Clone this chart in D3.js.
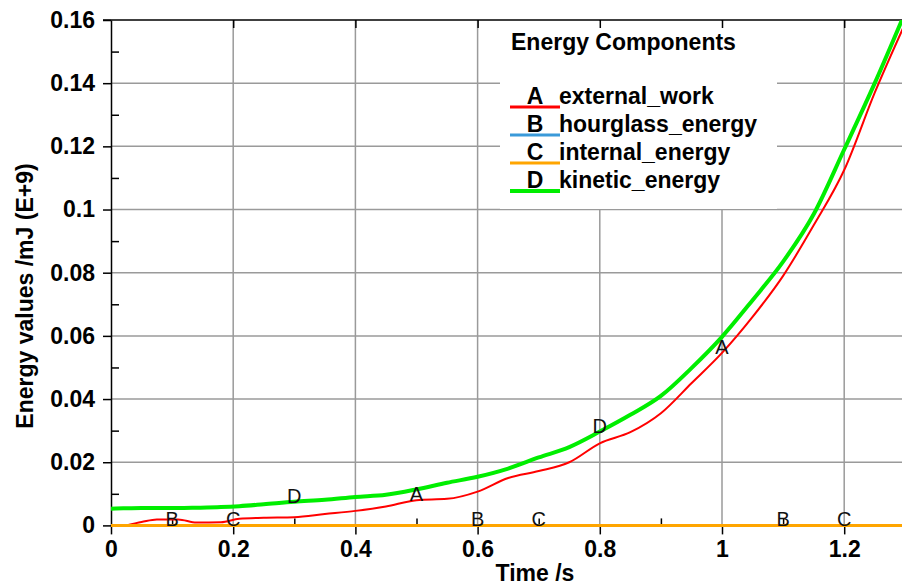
<!DOCTYPE html>
<html lang="en">
<head>
    <meta charset="UTF-8">
    <title>Energy Components</title>
</head>

<style>
    body {
        margin: 0;
        background: #fff;
    }
    svg text {
        font-family: "Liberation Sans", Arial, sans-serif;
    }
</style>
<script src="https://cdnjs.cloudflare.com/ajax/libs/d3/7.8.5/d3.min.js"></script>

<body>
<div id="svg"></div>
</body>
</html>

<script>

    // Time values (s) shared by every series
    const time = [0, 0.02, 0.05, 0.075, 0.11, 0.14, 0.18, 0.21, 0.25, 0.3,
                  0.35, 0.4, 0.45, 0.5, 0.55, 0.6, 0.65, 0.7, 0.75, 0.8,
                  0.85, 0.9, 0.95, 1.0, 1.05, 1.1, 1.15, 1.2, 1.25, 1.3];

    // Energy values /mJ (E+9)
    const externalWork = [0, 0, 0.0011, 0.0019, 0.0019, 0.0009, 0.0010, 0.0021, 0.0024, 0.0026,
                          0.0036, 0.0046, 0.0060, 0.0080, 0.0084, 0.0107, 0.0150, 0.0172, 0.0200, 0.0260,
                          0.0295, 0.0355, 0.0450, 0.0546, 0.0660, 0.0790, 0.0950, 0.1125, 0.1370, 0.1590];

    const hourglassEnergy = [0, 0, 0, 0, 0, 0, 0, 0, 0, 0,
                             0, 0, 0, 0, 0, 0, 0, 0, 0, 0,
                             0, 0, 0, 0, 0, 0, 0, 0, 0, 0];

    const internalEnergy = [0, 0, 0, 0, 0, 0, 0, 0, 0, 0,
                            0, 0, 0, 0, 0, 0, 0, 0, 0, 0,
                            0, 0, 0, 0, 0, 0, 0, 0, 0, 0];

    const kineticEnergy = [0.0053, 0.0054, 0.0055, 0.0055, 0.0055, 0.0056, 0.0058, 0.0061, 0.0067, 0.0075,
                           0.0081, 0.0090, 0.0097, 0.0114, 0.0135, 0.0154, 0.0180, 0.0215, 0.0248, 0.0297,
                           0.0350, 0.0410, 0.0498, 0.0597, 0.0713, 0.0835, 0.0985, 0.1190, 0.1400, 0.1625];

    // Letter markers along each curve (times where the letter sits)
    const letters     = ['A', 'B', 'C', 'D'];
    const seriesNames = ['external_work', 'hourglass_energy', 'internal_energy', 'kinetic_energy'];
    const markerTimes = [[0.5, 1.0], [0.1, 0.6, 1.1], [0.2, 0.7, 1.2], [0.3, 0.8]];

    // Tick values
    const xMajor = [0, 0.2, 0.4, 0.6, 0.8, 1.0, 1.2];
    const xMinor = [0.1, 0.3, 0.5, 0.7, 0.9, 1.1];
    const yMajor = [0, 0.02, 0.04, 0.06, 0.08, 0.1, 0.12, 0.14, 0.16];
    const yMinor = [0.01, 0.03, 0.05, 0.07, 0.09, 0.11, 0.13, 0.15];

    const series = [
        { letter: letters[0], values: externalWork,    colour: '#ff0000', width: 2 },
        { letter: letters[1], values: hourglassEnergy, colour: '#3a9ad9', width: 3 },
        { letter: letters[2], values: internalEnergy,  colour: '#ffa500', width: 3 },
        { letter: letters[3], values: kineticEnergy,   colour: '#00ee00', width: 4 }
    ];

    const width  = 902;
    const height = 586;
    const fontSize = 23;

    const plotLeft = 111, plotTop = 20, plotBottom = 525.4;

    const x = d3.scaleLinear().domain([0, 1.3]).range([plotLeft, 905.3]);
    const y = d3.scaleLinear().domain([0, 0.16]).range([plotBottom, plotTop]);

    const svg = d3.select('#svg')
        .append('svg')
        .attr('width', width)
        .attr('height', height);

    // Grid lines
    const grid = svg.append('g').attr('stroke', '#9a9a9a').attr('stroke-width', 1.5);
    grid.selectAll('.vx')
        .data(xMajor.filter(d => d > 0))
        .enter().append('line')
        .attr('x1', d => x(d)).attr('x2', d => x(d))
        .attr('y1', plotTop).attr('y2', plotBottom);
    grid.selectAll('.hy')
        .data(yMajor.filter(d => d > 0 && d < 0.16))
        .enter().append('line')
        .attr('x1', plotLeft).attr('x2', width)
        .attr('y1', d => y(d)).attr('y2', d => y(d));

    // Legend background hides the grid behind it
    svg.append('rect')
        .attr('x', 500).attr('y', plotTop + 1)
        .attr('width', 277).attr('height', 188)
        .attr('fill', '#fff');

    const tickFmt = d => String(+d.toFixed(2));

    const styleAxis = (g) => {
        g.selectAll('path, line').attr('stroke', '#000').attr('stroke-width', 1.5);
        g.selectAll('text')
            .attr('fill', '#000')
            .attr('font-size', fontSize)
            .attr('font-weight', 'bold')
            .attr('font-family', '"Liberation Sans", Arial, sans-serif');
    };

    // Left axis, major ticks outward with labels
    svg.append('g')
        .attr('transform', `translate(${plotLeft},0)`)
        .call(d3.axisLeft(y).tickValues(yMajor).tickSize(8).tickSizeOuter(0)
            .tickPadding(8).tickFormat(tickFmt))
        .call(styleAxis);

    // Left axis, minor ticks inward
    svg.append('g')
        .attr('transform', `translate(${plotLeft},0)`)
        .call(d3.axisRight(y).tickValues(yMinor).tickSize(8).tickSizeOuter(0).tickFormat(''))
        .call(styleAxis)
        .select('.domain').remove();

    // Bottom axis
    svg.append('g')
        .attr('transform', `translate(0,${plotBottom})`)
        .call(d3.axisBottom(x).tickValues(xMajor).tickSize(9).tickSizeOuter(0)
            .tickPadding(6).tickFormat(tickFmt))
        .call(styleAxis);

    svg.append('g')
        .attr('transform', `translate(0,${plotBottom})`)
        .call(d3.axisTop(x).tickValues(xMinor).tickSize(7).tickSizeOuter(0).tickFormat(''))
        .call(styleAxis)
        .select('.domain').remove();

    // Top frame with short ticks pointing down
    svg.append('g')
        .attr('transform', `translate(0,${plotTop})`)
        .call(d3.axisBottom(x).tickValues(xMajor.filter(d => d > 0)).tickSize(8).tickSizeOuter(0).tickFormat(''))
        .call(styleAxis)
        .select('.domain').remove();
    svg.append('line')
        .attr('x1', plotLeft - 8).attr('x2', width)
        .attr('y1', plotTop).attr('y2', plotTop)
        .attr('stroke', '#000').attr('stroke-width', 1.5);

    // Axis titles
    svg.append('text')
        .attr('x', 535).attr('y', 581)
        .attr('text-anchor', 'middle')
        .attr('font-size', fontSize).attr('font-weight', 'bold')
        .text('Time /s');

    svg.append('text')
        .attr('transform', 'translate(33,296) rotate(-90)')
        .attr('text-anchor', 'middle')
        .attr('font-size', fontSize).attr('font-weight', 'bold')
        .text('Energy values /mJ (E+9)');

    // Curves
    svg.append('clipPath').attr('id', 'plot')
        .append('rect')
        .attr('x', plotLeft).attr('y', plotTop)
        .attr('width', width - plotLeft).attr('height', plotBottom - plotTop + 3);

    const line = d3.line()
        .x((d, i) => x(time[i]))
        .y(d => y(d))
        .curve(d3.curveMonotoneX);

    // draw order: blue, red, green, orange on top along the zero line
    const drawOrder = [1, 0, 3, 2];
    svg.append('g').attr('clip-path', 'url(#plot)')
        .selectAll('path')
        .data(drawOrder.map(i => series[i]))
        .enter().append('path')
        .attr('d', d => line(d.values))
        .attr('fill', 'none')
        .attr('stroke', d => d.colour)
        .attr('stroke-width', d => d.width)
        .attr('stroke-linejoin', 'round');

    // value of a series at time t (linear between samples)
    const valueAt = (values, t) => {
        const i = Math.max(1, d3.bisectLeft(time, t));
        const t0 = time[i - 1], t1 = time[i];
        const k = (t - t0) / (t1 - t0);
        return values[i - 1] + k * (values[i] - values[i - 1]);
    };

    const markers = [];
    series.forEach((s, i) => {
        markerTimes[i].forEach(t => markers.push({ letter: s.letter, t: t, v: valueAt(s.values, t) }));
    });

    svg.append('g')
        .selectAll('text')
        .data(markers)
        .enter().append('text')
        .attr('x', d => x(d.t))
        .attr('y', d => y(d.v) + 1)
        .attr('text-anchor', 'middle')
        .attr('font-size', 20)
        .attr('fill', '#111')
        .text(d => d.letter);

    // Legend
    const legend = svg.append('g');
    legend.append('text')
        .attr('x', 511).attr('y', 50)
        .attr('font-size', fontSize).attr('font-weight', 'bold')
        .text('Energy Components');

    const item = legend.selectAll('.item')
        .data(series)
        .enter().append('g')
        .attr('transform', (d, i) => `translate(0,${104 + i * 28})`);

    item.append('line')
        .attr('x1', 510).attr('x2', 560)
        .attr('y1', 3).attr('y2', 3)
        .attr('stroke', d => d.colour)
        .attr('stroke-width', (d, i) => i === 3 ? 4 : 3);

    item.append('text')
        .attr('x', 535).attr('y', 0)
        .attr('text-anchor', 'middle')
        .attr('font-size', fontSize).attr('font-weight', 'bold')
        .text(d => d.letter);

    item.append('text')
        .attr('x', 559).attr('y', 0)
        .attr('font-size', fontSize).attr('font-weight', 'bold')
        .text((d, i) => seriesNames[i]);

</script>
